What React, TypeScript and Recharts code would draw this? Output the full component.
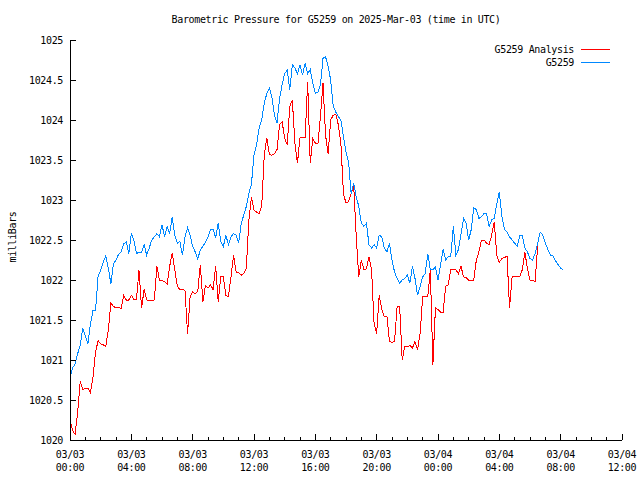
import React from 'react';
import { LineChart, Line, XAxis, YAxis } from 'recharts';

// ---- data (10-minute samples starting 2025-03-03 00:00 UTC) ----
const SAMPLE_STEP_HOURS = 1 / 6;

const stationValues: number[] = [
  1020.78, 1020.90, 1020.95, 1021.08, 1021.18, 1021.40, 1021.30, 1021.20, 1021.45, 1021.62,
  1021.62, 1022.05, 1022.12, 1022.22, 1022.30, 1022.15, 1021.95, 1022.20, 1022.25, 1022.32,
  1022.35, 1022.45, 1022.48, 1022.33, 1022.58, 1022.50, 1022.33, 1022.35, 1022.35, 1022.44,
  1022.31, 1022.40, 1022.50, 1022.54, 1022.58, 1022.54, 1022.69, 1022.54, 1022.67, 1022.58,
  1022.79, 1022.56, 1022.46, 1022.48, 1022.31, 1022.54, 1022.65, 1022.56, 1022.42, 1022.35,
  1022.26, 1022.38, 1022.42, 1022.47, 1022.54, 1022.63, 1022.63, 1022.53, 1022.71, 1022.48,
  1022.42, 1022.56, 1022.44, 1022.54, 1022.58, 1022.56, 1022.46, 1022.71, 1022.81, 1022.92,
  1023.08, 1023.20, 1023.56, 1023.69, 1023.90, 1024.00, 1024.21, 1024.33, 1024.40, 1024.29,
  1024.06, 1023.96, 1024.27, 1024.44, 1024.58, 1024.62, 1024.38, 1024.69, 1024.65, 1024.58,
  1024.69, 1024.56, 1024.71, 1024.58, 1024.63, 1024.46, 1024.33, 1024.35, 1024.44, 1024.77,
  1024.79, 1024.67, 1024.50, 1024.17, 1024.10, 1024.04, 1024.00, 1023.79, 1023.60, 1023.48,
  1023.08, 1023.21, 1023.04, 1022.92, 1022.71, 1022.67, 1022.71, 1022.44, 1022.40, 1022.44,
  1022.40, 1022.56, 1022.54, 1022.40, 1022.35, 1022.46, 1022.25, 1022.10, 1022.02, 1021.96,
  1022.00, 1022.02, 1022.06, 1021.96, 1022.17, 1022.02, 1021.81, 1021.92, 1022.04, 1022.08,
  1022.33, 1022.13, 1022.13, 1022.16, 1022.00, 1022.19, 1022.38, 1022.25, 1022.29, 1022.30,
  1022.67, 1022.31, 1022.38, 1022.58, 1022.77, 1022.71, 1022.50, 1022.63, 1022.90, 1022.88,
  1022.77, 1022.79, 1022.83, 1022.83, 1022.67, 1022.75, 1022.77, 1022.95, 1023.10, 1022.79,
  1022.63, 1022.60, 1022.54, 1022.50, 1022.46, 1022.42, 1022.56, 1022.56, 1022.40, 1022.35,
  1022.27, 1022.25, 1022.33, 1022.46, 1022.60, 1022.56, 1022.46, 1022.38, 1022.31, 1022.30,
  1022.24, 1022.19, 1022.15, 1022.12,
];

const analysisValues: number[] = [
  1020.25, 1020.12, 1020.07, 1020.35, 1020.73, 1020.63, 1020.65, 1020.65, 1020.59, 1020.79,
  1021.10, 1021.24, 1021.20, 1021.19, 1021.17, 1021.38, 1021.71, 1021.67, 1021.65, 1021.66,
  1021.64, 1021.81, 1021.75, 1021.75, 1021.81, 1021.76, 1021.76, 1022.12, 1021.65, 1021.88,
  1021.75, 1021.74, 1021.74, 1021.75, 1022.17, 1022.00, 1021.99, 1021.98, 1021.95, 1022.17,
  1022.34, 1022.13, 1021.92, 1021.88, 1021.88, 1021.87, 1021.33, 1021.79, 1021.85, 1021.83,
  1021.86, 1022.19, 1021.73, 1021.93, 1021.90, 1021.94, 1021.88, 1022.17, 1021.73, 1022.04,
  1022.04, 1021.81, 1021.79, 1022.04, 1022.31, 1022.10, 1022.09, 1022.06, 1022.08, 1022.15,
  1022.75, 1023.04, 1022.87, 1022.85, 1022.83, 1022.92, 1023.55, 1023.78, 1023.57, 1023.56,
  1023.58, 1023.63, 1023.94, 1023.98, 1023.77, 1023.69, 1024.17, 1024.25, 1023.71, 1023.46,
  1023.78, 1023.78, 1023.78, 1024.47, 1023.46, 1023.77, 1023.71, 1023.70, 1024.04, 1024.46,
  1023.81, 1023.58, 1024.00, 1024.06, 1024.07, 1023.94, 1023.71, 1023.08, 1022.96, 1022.98,
  1023.08, 1023.19, 1022.54, 1022.04, 1022.25, 1022.13, 1022.14, 1022.29, 1022.13, 1021.45,
  1021.33, 1021.81, 1021.63, 1021.54, 1021.55, 1021.23, 1021.22, 1021.23, 1021.67, 1021.67,
  1021.00, 1021.17, 1021.17, 1021.18, 1021.15, 1021.23, 1021.13, 1021.33, 1021.79, 1021.79,
  1021.79, 1022.13, 1020.94, 1021.65, 1021.63, 1021.60, 1021.60, 1021.92, 1021.94, 1022.13,
  1022.13, 1022.13, 1022.08, 1022.17, 1022.04, 1022.03, 1022.00, 1022.00, 1022.00, 1022.25,
  1022.35, 1022.50, 1022.50, 1022.46, 1022.44, 1022.56, 1022.73, 1022.31, 1022.22, 1022.27,
  1022.28, 1022.30, 1021.65, 1022.04, 1022.05, 1022.04, 1022.04, 1022.13, 1022.35, 1022.14,
  1022.00, 1022.00, 1021.98, 1022.42,
];

const xMajorHours = [0, 4, 8, 12, 16, 20, 24, 28, 32, 36];
const xTickDates = ['03/03', '03/03', '03/03', '03/03', '03/03', '03/03', '03/04', '03/04', '03/04', '03/04'];
const xTickTimes = ['00:00', '04:00', '08:00', '12:00', '16:00', '20:00', '00:00', '04:00', '08:00', '12:00'];
const xAllTickHours = [
  0, 1, 2, 3, 4, 5, 6, 7, 8, 9, 10, 11, 12, 13, 14, 15, 16, 17, 18,
  19, 20, 21, 22, 23, 24, 25, 26, 27, 28, 29, 30, 31, 32, 33, 34, 35, 36,
];
const yTicks = [1020, 1020.5, 1021, 1021.5, 1022, 1022.5, 1023, 1023.5, 1024, 1024.5, 1025];
const yTickLabels = ['1020', '1020.5', '1021', '1021.5', '1022', '1022.5', '1023', '1023.5', '1024', '1024.5', '1025'];

const TITLE = 'Barometric Pressure for G5259 on 2025-Mar-03 (time in UTC)';
const Y_LABEL = 'milliBars';
const SERIES_ANALYSIS = 'G5259 Analysis';
const SERIES_STATION = 'G5259';

const RED = '#ff0000';
const BLUE = '#0088ff';
const FONT = '"DejaVu Sans Mono", "Liberation Mono", monospace';
const FS = 10;
const LS = -0.35;
const MAJOR = 6;
const MINOR = 3;

const data = stationValues.map((v, i) => ({
  t: i * SAMPLE_STEP_HOURS,
  station: v,
  analysis: i < analysisValues.length ? analysisValues[i] : undefined,
}));

const textProps = { fontFamily: FONT, fontSize: FS, letterSpacing: LS, fill: '#000' };

const BottomTick = (props: any) => {
  const { x, y, payload } = props;
  const idx = xMajorHours.indexOf(payload.value);
  const major = idx >= 0;
  return (
    <g>
      <line x1={x} y1={y} x2={x} y2={y - (major ? MAJOR : MINOR)} stroke="#000" shapeRendering="crispEdges" />
      {major && (
        <>
          <text x={x} y={y + 18} textAnchor="middle" {...textProps}>{xTickDates[idx]}</text>
          <text x={x} y={y + 31} textAnchor="middle" {...textProps}>{xTickTimes[idx]}</text>
        </>
      )}
    </g>
  );
};

const TopTick = (props: any) => {
  const { x, y, payload } = props;
  const major = xMajorHours.indexOf(payload.value) >= 0;
  return <line x1={x} y1={y} x2={x} y2={y + (major ? MAJOR : MINOR)} stroke="#000" shapeRendering="crispEdges" />;
};

const LeftTick = (props: any) => {
  const { x, y, payload } = props;
  const idx = yTicks.indexOf(payload.value);
  return (
    <g>
      <line x1={x} y1={y} x2={x + MAJOR} y2={y} stroke="#000" shapeRendering="crispEdges" />
      <text x={x - 7} y={y + 3.5} textAnchor="end" {...textProps}>{yTickLabels[idx]}</text>
    </g>
  );
};

const RightTick = (props: any) => {
  const { x, y } = props;
  return <line x1={x} y1={y} x2={x - MAJOR} y2={y} stroke="#000" shapeRendering="crispEdges" />;
};

export default function App() {
  return (
    <div style={{ position: 'absolute', left: 0, top: 0, width: 640, height: 480, background: '#fff' }}>
      <LineChart width={640} height={480} data={data} margin={{ top: 40, right: 18, bottom: 0, left: 0 }}>
        <XAxis
          xAxisId="b"
          dataKey="t"
          type="number"
          domain={[0, 36]}
          ticks={xAllTickHours}
          interval={0}
          orientation="bottom"
          height={40}
          tickSize={0}
          tickMargin={0}
          tickLine={false}
          axisLine={{ stroke: '#000', shapeRendering: 'crispEdges' }}
          tick={<BottomTick />}
        />
        <XAxis
          xAxisId="top"
          dataKey="t"
          type="number"
          domain={[0, 36]}
          ticks={xAllTickHours}
          interval={0}
          orientation="top"
          height={0}
          tickSize={0}
          tickMargin={0}
          tickLine={false}
          axisLine={{ stroke: '#000', shapeRendering: 'crispEdges' }}
          tick={<TopTick />}
        />
        <YAxis
          yAxisId="l"
          type="number"
          domain={[1020, 1025]}
          ticks={yTicks}
          interval={0}
          orientation="left"
          width={70}
          tickSize={0}
          tickMargin={0}
          tickLine={false}
          axisLine={{ stroke: '#000', shapeRendering: 'crispEdges' }}
          tick={<LeftTick />}
        />
        <YAxis
          yAxisId="r"
          type="number"
          domain={[1020, 1025]}
          ticks={yTicks}
          interval={0}
          orientation="right"
          width={0}
          tickSize={0}
          tickMargin={0}
          tickLine={false}
          axisLine={{ stroke: '#000', shapeRendering: 'crispEdges' }}
          tick={<RightTick />}
        />
        <Line
          xAxisId="b"
          yAxisId="l"
          dataKey="analysis"
          name={SERIES_ANALYSIS}
          type="linear"
          stroke={RED}
          strokeWidth={1}
          dot={false}
          shapeRendering="crispEdges"
          isAnimationActive={false}
        />
        <Line
          xAxisId="b"
          yAxisId="l"
          dataKey="station"
          name={SERIES_STATION}
          type="linear"
          stroke={BLUE}
          strokeWidth={1}
          dot={false}
          shapeRendering="crispEdges"
          isAnimationActive={false}
        />
        <Line
          xAxisId="top"
          yAxisId="r"
          dataKey="station"
          stroke="none"
          dot={false}
          legendType="none"
          isAnimationActive={false}
        />
      </LineChart>
      <svg width={640} height={480} style={{ position: 'absolute', left: 0, top: 0, pointerEvents: 'none' }}>
        <text x={336} y={23} textAnchor="middle" {...textProps}>{TITLE}</text>
        <text transform="translate(15.5,237) rotate(-90)" textAnchor="middle" {...textProps}>{Y_LABEL}</text>
        <text x={574} y={53} textAnchor="end" {...textProps}>{SERIES_ANALYSIS}</text>
        <line x1={581} y1={49.5} x2={610} y2={49.5} stroke={RED} shapeRendering="crispEdges" />
        <text x={574} y={66} textAnchor="end" {...textProps}>{SERIES_STATION}</text>
        <line x1={581} y1={62.5} x2={610} y2={62.5} stroke={BLUE} shapeRendering="crispEdges" />
      </svg>
    </div>
  );
}
